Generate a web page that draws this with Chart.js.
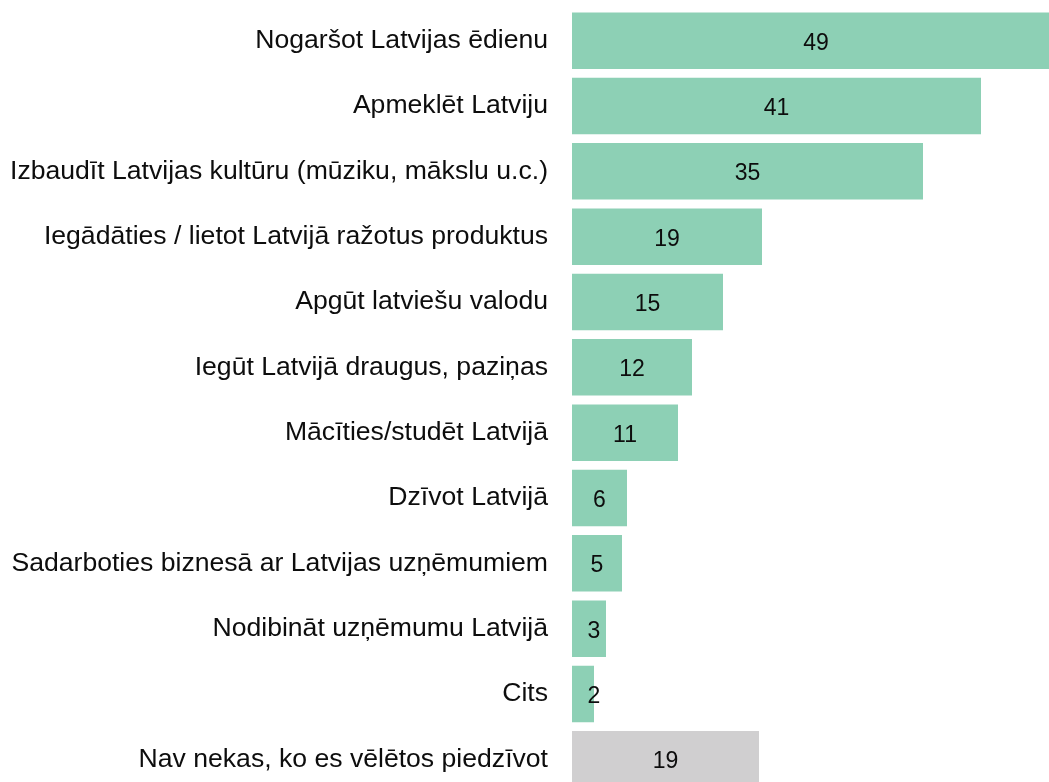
<!DOCTYPE html>
<html>
<head>
<meta charset="utf-8">
<script src="https://cdn.jsdelivr.net/npm/chart.js@4/dist/chart.umd.min.js"></script>
<style>
html,body{margin:0;padding:0;background:#fff;overflow:hidden;}
#clipbox{width:1049px;height:782px;overflow:hidden;position:relative;}
#wrap{width:1049px;height:792px;position:absolute;left:0;top:0;}
</style>
</head>
<body>
<div id="clipbox"><div id="wrap"><canvas id="c"></canvas></div></div>
<script>
const categories = [
  "Nogaršot Latvijas ēdienu",
  "Apmeklēt Latviju",
  "Izbaudīt Latvijas kultūru (mūziku, mākslu u.c.)",
  "Iegādāties / lietot Latvijā ražotus produktus",
  "Apgūt latviešu valodu",
  "Iegūt Latvijā draugus, paziņas",
  "Mācīties/studēt Latvijā",
  "Dzīvot Latvijā",
  "Sadarboties biznesā ar Latvijas uzņēmumiem",
  "Nodibināt uzņēmumu Latvijā",
  "Cits",
  "Nav nekas, ko es vēlētos piedzīvot"
];
const values = [48.8, 40.9, 35.1, 19.0, 15.1, 12.0, 10.6, 5.5, 5.0, 3.4, 2.2, 18.7];
const valueLabels = ["49", "41", "35", "19", "15", "12", "11", "6", "5", "3", "2", "19"];
const barColors = ["#8dd0b5","#8dd0b5","#8dd0b5","#8dd0b5","#8dd0b5","#8dd0b5","#8dd0b5","#8dd0b5","#8dd0b5","#8dd0b5","#8dd0b5","#d0cfd0"];

const FONT = "'Liberation Sans', Arial, sans-serif";

const valueLabelPlugin = {
  id: 'valueLabels',
  afterDatasetsDraw(chart) {
    const ctx = chart.ctx;
    const meta = chart.getDatasetMeta(0);
    ctx.save();
    ctx.font = "23px " + FONT;
    ctx.fillStyle = "#0d0d0d";
    ctx.textAlign = "center";
    ctx.textBaseline = "middle";
    meta.data.forEach((bar, i) => {
      const p = bar.getProps(['x', 'y', 'base'], true);
      const cx = Math.max((p.x + p.base) / 2, p.base + 22);
      ctx.fillText(valueLabels[i], cx, p.y + 2.5);
    });
    ctx.restore();
  }
};

new Chart(document.getElementById('c'), {
  type: 'bar',
  data: {
    labels: categories,
    datasets: [{
      data: values,
      backgroundColor: barColors,
      borderWidth: 0,
      categoryPercentage: 1.0,
      barPercentage: 0.865,
      clip: false
    }]
  },
  options: {
    indexAxis: 'y',
    responsive: true,
    maintainAspectRatio: false,
    animation: false,
    layout: { padding: { top: 8, bottom: 0, left: 0, right: 0 } },
    plugins: { legend: { display: false }, tooltip: { enabled: false } },
    scales: {
      x: { display: false, min: 0, max: 47.7 },
      y: {
        grid: { display: false, drawTicks: false },
        border: { display: false },
        ticks: { color: "#0d0d0d", font: { family: FONT, size: 26.6 }, padding: 24 },
        afterFit(scale) { scale.width = 572; scale.paddingTop = 0; scale.paddingBottom = 0; }
      }
    }
  },
  plugins: [valueLabelPlugin]
});
</script>
</body>
</html>
